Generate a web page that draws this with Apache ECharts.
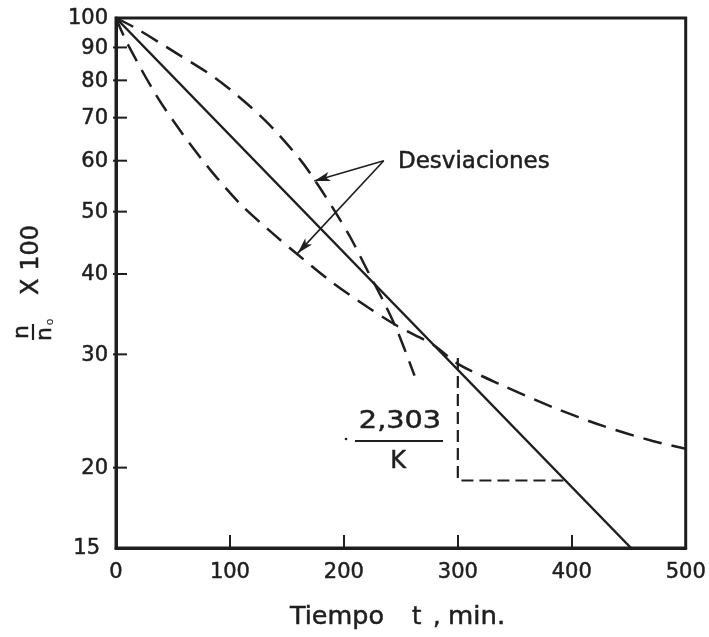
<!DOCTYPE html>
<html>
<head>
<meta charset="utf-8">
<script src="https://cdn.jsdelivr.net/npm/echarts@6/dist/echarts.min.js"></script>
<style>
  html, body { margin: 0; padding: 0; background: #fff; }
  #chart { width: 709px; height: 637px; }
</style>
</head>
<body>
<div id="chart"></div>
<script>
// eje y logaritmico (n/n0 x 100) y eje x en minutos
const yMin = 15
const yMax = 100
const yTickValues = [15, 20, 30, 40, 50, 60, 70, 80, 90, 100]

// recta de primer orden
const lineFit = [[0, 100], [452, 15]]
// desviaciones (curvas a trazos)
const devUpper = [[0, 100], [17, 96.5], [55, 87.7], [87, 80.7], [116, 73.3], [139, 67.0], [163, 59.8], [177, 55.1], [192, 50.1], [206, 45.5], [221, 40.4], [235, 36.2], [247, 32.6], [262, 27.8]]
const devLower = [[0, 100], [9, 92], [35, 76], [58, 66.2], [84, 57.7], [110, 51.2], [136, 46.5], [160, 42.8], [189, 38.9], [221, 35.5], [247, 33.2], [279, 31.0], [300, 29.0], [340, 26.8], [384, 24.8], [428, 23.2], [471, 22], [500, 21.4]]
// triangulo de pendiente 2,303/K
const slopeGuide = [[300, 29.6], [300, 19.1], [394, 19.1]]
// flechas de "Desviaciones"
const arrowFrom = [235, 60]
const arrowTo = [[174, 55.8], [159.5, 43.1]]

const ink = '#1e1e1e'
const font = '"DejaVu Sans", sans-serif'
const txt = { fill: ink, stroke: ink, lineWidth: 0.5 }

const chart = echarts.init(document.getElementById('chart'))

const dashed = {
  type: 'line',
  symbol: 'none',
  smooth: 0.3,
  silent: true,
  lineStyle: { color: ink, width: 2.5, type: [19, 10] }
}

function label(text, x, y, size, extra) {
  return Object.assign({
    type: 'text',
    style: Object.assign({ text, x, y, verticalAlign: 'middle', font: size + 'px ' + font }, txt)
  }, extra || {})
}

chart.setOption({
  backgroundColor: '#fff',
  animation: false,
  grid: {
    left: 116, right: 19, top: 18, bottom: 89,
    show: true, borderColor: ink, borderWidth: 3
  },
  xAxis: {
    type: 'value',
    min: 0, max: 500, interval: 100,
    axisLine: { show: true, lineStyle: { color: ink, width: 3 } },
    axisTick: { show: true, inside: true, length: 13, lineStyle: { color: ink, width: 2 } },
    axisLabel: {
      color: ink, fontSize: 21, fontFamily: 'DejaVu Sans', margin: 14,
      textBorderColor: ink, textBorderWidth: 0.5
    },
    splitLine: { show: false }
  },
  yAxis: {
    type: 'log',
    logBase: 10,
    min: yMin, max: yMax,
    axisLine: { show: true, lineStyle: { color: ink, width: 3 } },
    axisTick: { show: false },
    axisLabel: { show: false },
    splitLine: { show: false }
  },
  series: [
    {
      // marcas y etiquetas del eje y
      type: 'custom',
      silent: true,
      z: 10,
      data: yTickValues.map(v => [0, v]),
      renderItem: (params, api) => {
        const v = api.value(1)
        const p = api.coord([0, v])
        const children = []
        if (v > yMin && v < yMax) {
          children.push({
            type: 'line',
            shape: { x1: p[0] - 3, y1: p[1], x2: p[0] + 11, y2: p[1] },
            style: { stroke: ink, lineWidth: 2 }
          })
        }
        children.push({
          type: 'text',
          style: Object.assign({
            text: String(v),
            x: p[0] - (v === yMin ? 16 : 8),
            y: p[1] + 1,
            align: 'right',
            verticalAlign: 'middle',
            font: '21px ' + font
          }, txt)
        })
        return { type: 'group', children }
      }
    },
    {
      type: 'line',
      data: lineFit,
      symbol: 'none',
      silent: true,
      lineStyle: { color: ink, width: 2.5 }
    },
    Object.assign({ data: devUpper }, dashed),
    Object.assign({ data: devLower }, dashed),
    {
      type: 'line',
      data: slopeGuide,
      symbol: 'none',
      silent: true,
      lineStyle: { color: ink, width: 2.2, type: [12, 6] },
      markLine: {
        silent: true,
        symbol: ['none', 'arrow'],
        symbolSize: [7, 16],
        label: { show: false },
        lineStyle: { color: ink, width: 1.6, type: 'solid' },
        data: arrowTo.map(t => [{ coord: arrowFrom }, { coord: t }])
      }
    }
  ],
  graphic: [
    label('Desviaciones', 398, 162, 23),
    {
      type: 'text',
      x: 400, y: 421, scaleX: 1.15,
      style: Object.assign({ text: '2,303', x: 0, y: 0, align: 'center', verticalAlign: 'middle', font: '25px ' + font }, txt)
    },
    {
      type: 'line',
      shape: { x1: 355, y1: 441, x2: 443, y2: 441 },
      style: { stroke: ink, lineWidth: 2 }
    },
    {
      type: 'text',
      style: Object.assign({ text: 'K', x: 398, y: 462, align: 'center', verticalAlign: 'middle', font: '24px ' + font }, txt)
    },
    {
      type: 'circle',
      shape: { cx: 346, cy: 439, r: 1.3 },
      style: { fill: ink }
    },
    // titulo del eje x
    label('Tiempo', 0, 0, 24, { x: 290, y: 618, scaleX: 1.06 }),
    label('t', 412, 618, 24),
    label(',', 433, 618, 24),
    label('min.', 0, 0, 24, { x: 448, y: 618, scaleX: 1.08 }),
    // titulo del eje y: n/n0 X 100, girado
    {
      type: 'group',
      x: 33, y: 332,
      rotation: Math.PI / 2,
      children: [
        { type: 'line', shape: { x1: -8, y1: 0, x2: 8, y2: 0 }, style: { stroke: ink, lineWidth: 2.2 } },
        { type: 'text', style: Object.assign({ text: 'n', x: 0, y: -11, align: 'center', verticalAlign: 'middle', font: '22px ' + font }, txt) },
        { type: 'text', style: Object.assign({ text: 'n', x: -2, y: 12, align: 'center', verticalAlign: 'middle', font: '22px ' + font }, txt) },
        { type: 'text', style: { text: 'o', x: 10, y: 17, align: 'center', verticalAlign: 'middle', font: '11px ' + font, fill: ink } },
        { type: 'text', style: Object.assign({ text: 'X 100', x: 72, y: -1, align: 'center', verticalAlign: 'middle', font: '24px ' + font }, txt) }
      ]
    }
  ]
})
</script>
</body>
</html>
